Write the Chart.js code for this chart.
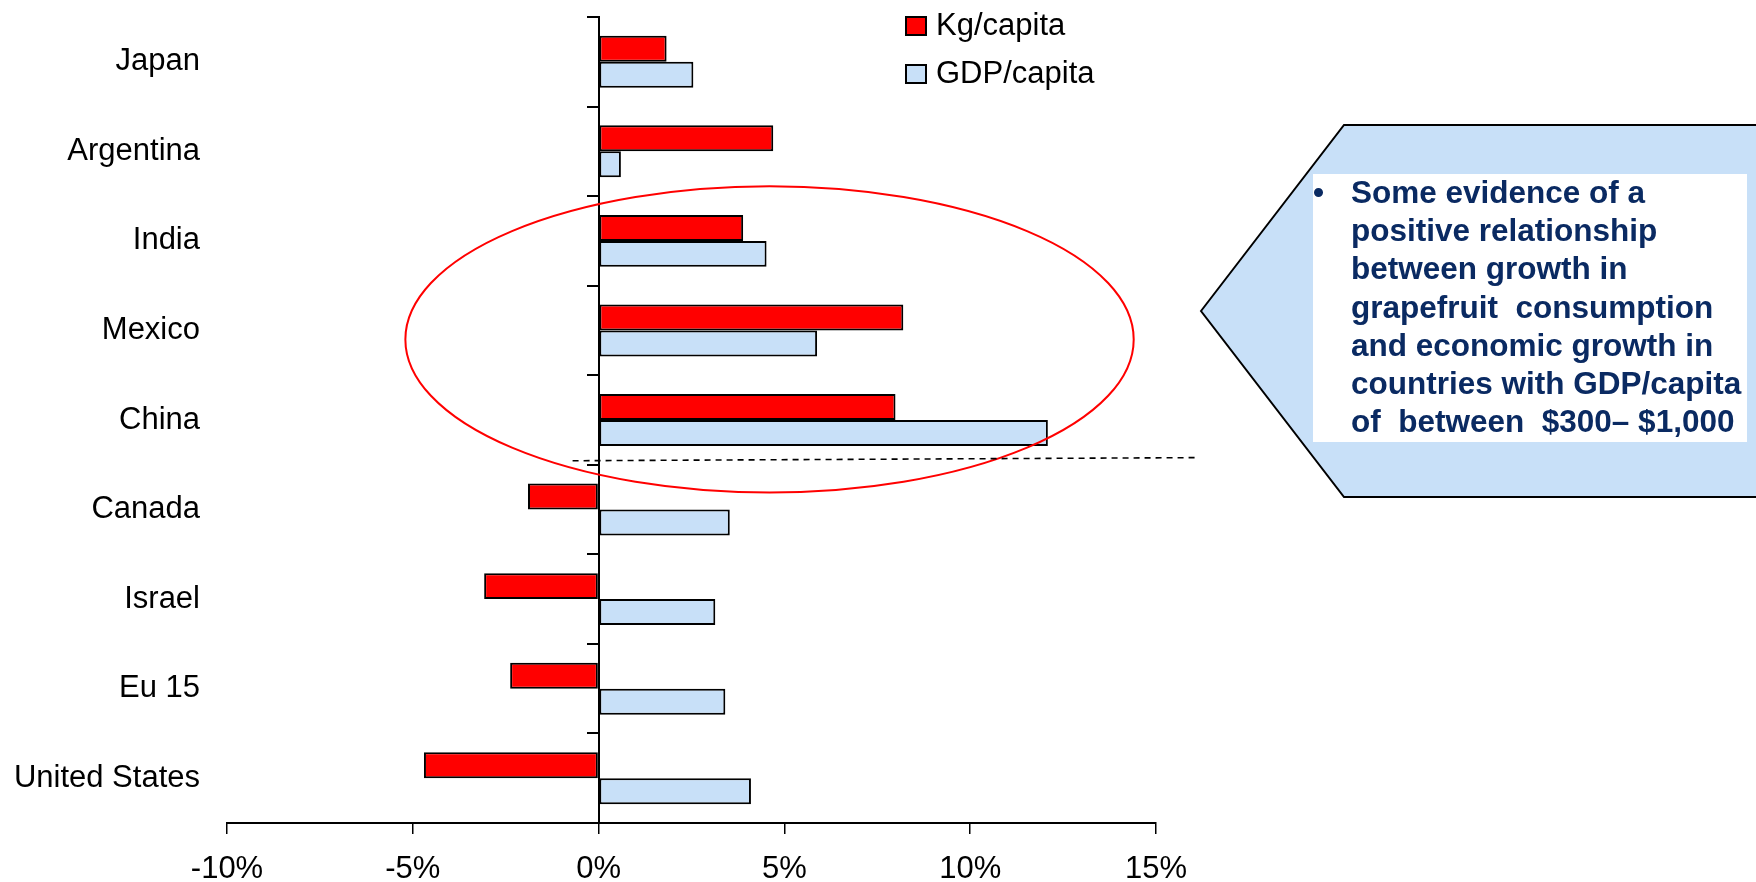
<!DOCTYPE html>
<html lang="en">
<head>
    <meta charset="UTF-8">
    <title>Grapefruit consumption vs GDP growth</title>
    <script src="https://cdn.jsdelivr.net/npm/chart.js"></script>
    <style>
      body { margin: 0; background: #fff; }
    </style>
</head>
<body>
    <div style="width:1756px; height:882px;">
        <canvas id="grafico"></canvas>
    </div>

    <script>
        // data (growth rates, %)
        const countries = ["Japan", "Argentina", "India", "Mexico", "China", "Canada", "Israel", "Eu 15", "United States"]
        const kgPerCapita = [1.83, 4.7, 3.89, 8.2, 7.99, -1.9, -3.08, -2.38, -4.7]
        const gdpPerCapita = [2.55, 0.6, 4.52, 5.88, 12.09, 3.53, 3.14, 3.41, 4.1]
        const xTicks = [-10, -5, 0, 5, 10, 15]
        const seriesNames = ["Kg/capita", "GDP/capita"]

        const noteLines = [
          "Some evidence of a",
          "positive relationship",
          "between growth in",
          "grapefruit  consumption",
          "and economic growth in",
          "countries with GDP/capita",
          "of  between  $300\u2013 $1,000"
        ]

        const FONT = "'Liberation Sans', Arial, sans-serif"
        const RED = "#ff0000"
        const BLUE = "#c8e0f8"

        // ellipse + dashed separator, placed in data units
        const extras = {
          id: "extras",
          afterDatasetsDraw(chart) {
            const ctx = chart.ctx
            const x = chart.scales.x, y = chart.scales.y
            ctx.save()
            // circled group
            const l = x.getPixelForValue(-5.2), r = x.getPixelForValue(14.4)
            const t = y.getPixelForValue(1.39), b = y.getPixelForValue(4.81)
            ctx.beginPath()
            ctx.ellipse((l + r) / 2, (t + b) / 2, (r - l) / 2, (b - t) / 2, 0, 0, Math.PI * 2)
            ctx.strokeStyle = RED
            ctx.lineWidth = 2
            ctx.stroke()
            // dashed line
            ctx.beginPath()
            ctx.setLineDash([6, 5])
            ctx.moveTo(x.getPixelForValue(-0.7), y.getPixelForValue(4.455))
            ctx.lineTo(x.getPixelForValue(16.15), y.getPixelForValue(4.42))
            ctx.strokeStyle = "#000"
            ctx.lineWidth = 1.6
            ctx.stroke()
            ctx.restore()
          },
          afterDraw(chart) {
            const ctx = chart.ctx
            ctx.save()
            // legend
            chart.data.datasets.forEach((ds, i) => {
              const by = 17 + i * 48
              ctx.fillStyle = ds.backgroundColor
              ctx.fillRect(906, by, 20, 18)
              ctx.strokeStyle = "#000"
              ctx.lineWidth = 2
              ctx.strokeRect(906, by, 20, 18)
              ctx.fillStyle = "#000"
              ctx.font = "31px " + FONT
              ctx.textBaseline = "middle"
              ctx.fillText(ds.label, 936, by + 9)
            })
            // callout arrow
            ctx.beginPath()
            ctx.moveTo(1201, 311)
            ctx.lineTo(1344, 125)
            ctx.lineTo(1760, 125)
            ctx.lineTo(1760, 497)
            ctx.lineTo(1344, 497)
            ctx.closePath()
            ctx.fillStyle = BLUE
            ctx.fill()
            ctx.strokeStyle = "#000"
            ctx.lineWidth = 2
            ctx.stroke()
            ctx.fillStyle = "#fff"
            ctx.fillRect(1313, 174, 434, 268)
            ctx.fillStyle = "#0a2a62"
            ctx.font = "bold 31.5px " + FONT
            ctx.textBaseline = "middle"
            ctx.fillText("\u2022", 1313, 194)
            noteLines.forEach((s, i) => ctx.fillText(s, 1351, 194 + i * 38.3))
            ctx.restore()
          }
        }

        const ctx = document.getElementById("grafico")

        new Chart(ctx, {
          type: "bar",
          data: {
            labels: countries,
            datasets: [
              { label: seriesNames[0], data: kgPerCapita, backgroundColor: RED },
              { label: seriesNames[1], data: gdpPerCapita, backgroundColor: BLUE }
            ]
          },
          options: {
            indexAxis: "y",
            responsive: true,
            maintainAspectRatio: false,
            animation: false,
            layout: { padding: { left: 0, right: 600, top: 17, bottom: 0 } },
            datasets: {
              bar: {
                borderColor: "#000",
                borderWidth: 2,
                borderSkipped: false,
                categoryPercentage: 0.58,
                barPercentage: 1
              }
            },
            plugins: { legend: { display: false }, tooltip: { enabled: false } },
            scales: {
              x: {
                min: -10, max: 15,
                afterBuildTicks: s => { s.ticks = xTicks.map(v => ({ value: v })) },
                afterFit: s => { s.height = 59; s.paddingLeft = 0; s.paddingRight = 0 },
                ticks: { callback: v => v + "%", color: "#000", font: { family: FONT, size: 31 }, padding: 17, maxRotation: 0 },
                grid: { drawOnChartArea: false, color: "#000", lineWidth: 1.5, tickLength: 11 },
                border: { color: "#000", width: 2 }
              },
              y: {
                position: "left",
                afterFit: s => { s.width = 227; s.paddingTop = 0; s.paddingBottom = 0 },
                ticks: { color: "#000", font: { family: FONT, size: 31 }, padding: 27 },
                grid: { display: false, drawTicks: false },
                border: { display: false }
              },
              y2: {
                type: "category",
                position: { x: 0 },
                offset: true,
                afterFit: s => { s.paddingTop = 0; s.paddingBottom = 0 },
                ticks: { display: false },
                grid: { offset: true, drawOnChartArea: false, color: "#000", lineWidth: 2, tickLength: 11 },
                border: { color: "#000", width: 2 }
              }
            }
          },
          plugins: [extras]
        })
    </script>
</body>
</html>
